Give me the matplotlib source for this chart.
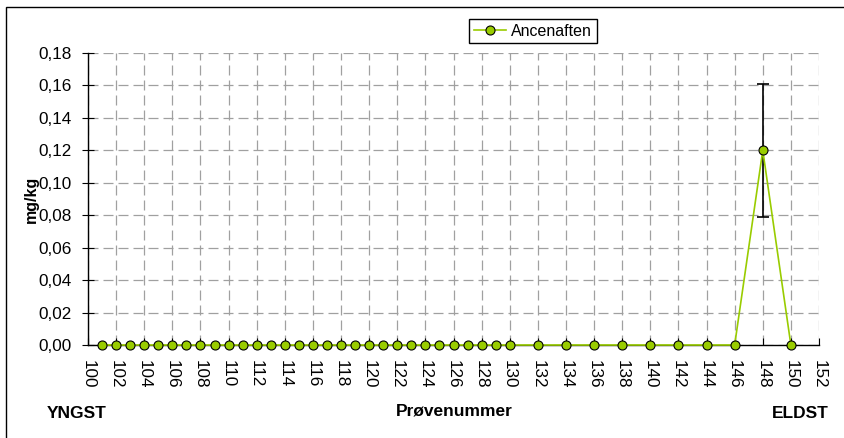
import matplotlib
matplotlib.use("Agg")
import matplotlib.pyplot as plt
from matplotlib.patches import Rectangle
from matplotlib.ticker import FuncFormatter, MultipleLocator

# sample numbers and measured concentrations (mg/kg)
samples = list(range(101, 131)) + list(range(132, 152, 2))
values = [0.0] * 30 + [0.0] * 8 + [0.12, 0.0]
err_sample = [148]
err_value = [0.12]
err_size = [0.041]

series_name = "Ancenaften"
y_label = "mg/kg"
x_label = "Prøvenummer"
left_note = "YNGST"
right_note = "ELDST"

plt.rcParams["font.family"] = ["Liberation Sans", "DejaVu Sans"]

W, H = 844, 438
fig = plt.figure(figsize=(W / 100, H / 100), dpi=100)

# outer chart frame (cut off at right and bottom)
fig.patches.append(Rectangle((6 / W, -0.1), 1.2, 1 - 7 / H + 0.1,
                             transform=fig.transFigure, fill=False,
                             edgecolor="black", linewidth=1.0))

ax = fig.add_axes([88 / W, 1 - 345 / H, (819 - 88) / W, (345 - 53) / H])

green = "#99CC00"
ax.errorbar(err_sample, err_value, yerr=err_size, fmt="none", ecolor="black",
            elinewidth=1.2, capsize=4.5, capthick=1.2, zorder=3)
ax.plot(samples, values, color=green, linewidth=1.2, marker="o",
        markersize=6.5, markerfacecolor=green, markeredgecolor="black",
        markeredgewidth=0.8, label=series_name, zorder=4, clip_on=False)

ax.set_xlim(100, 152)
ax.set_ylim(0, 0.18)
ax.xaxis.set_major_locator(MultipleLocator(2))
ax.yaxis.set_major_locator(MultipleLocator(0.02))
ax.yaxis.set_major_formatter(FuncFormatter(lambda v, p: f"{v:.2f}".replace(".", ",")))

ax.grid(True, color="#a0a0a0", linestyle=(0, (8, 4)), linewidth=0.9)
ax.set_axisbelow(True)
for s in ("top", "right"):
    ax.spines[s].set_visible(False)
for s in ("left", "bottom"):
    ax.spines[s].set_linewidth(1.0)

ax.tick_params(axis="x", direction="in", length=5, labelsize=12.3,
               labelrotation=270, pad=11)
ax.tick_params(axis="y", direction="inout", length=8, labelsize=12.3, pad=8)

ax.set_ylabel(y_label, fontsize=11.5, fontweight="bold", labelpad=-1)

fig.text(454 / W, 1 - 411 / H, x_label, fontsize=12.5, fontweight="bold",
         ha="center", va="center")
fig.text(77 / W, 1 - 413 / H, left_note, fontsize=12.5, fontweight="bold",
         ha="center", va="center")
fig.text(800 / W, 1 - 413 / H, right_note, fontsize=12.5, fontweight="bold",
         ha="center", va="center")

leg = ax.legend(loc="center", bbox_to_anchor=(533 / W, 1 - 31 / H),
                bbox_transform=fig.transFigure, fontsize=11.5, frameon=True,
                fancybox=False, framealpha=1, edgecolor="black",
                handlelength=2.0, handletextpad=0.3, borderpad=0.3,
                borderaxespad=0)
leg.get_frame().set_linewidth(1.0)

fig.savefig("out.png", dpi=100)
